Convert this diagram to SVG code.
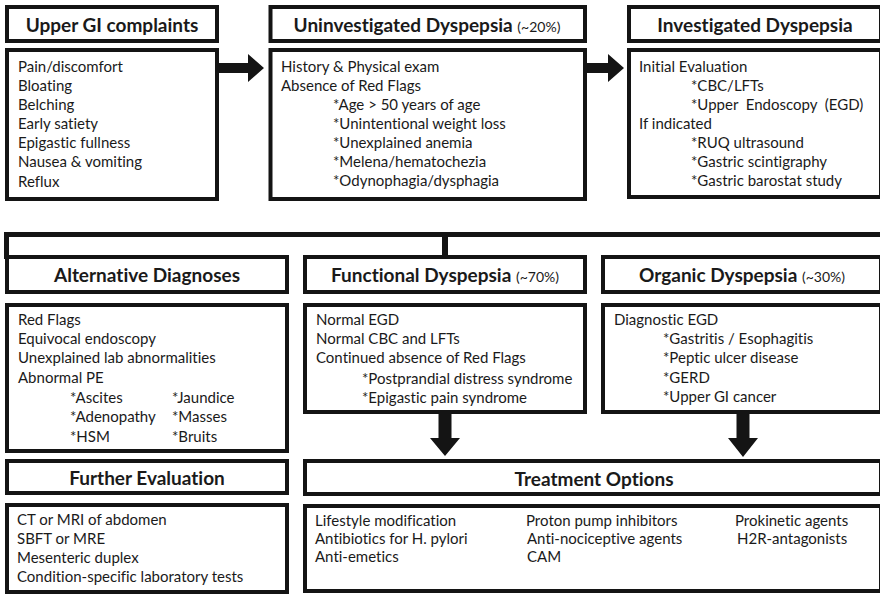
<svg xmlns="http://www.w3.org/2000/svg" width="880" height="594" viewBox="0 0 880 594">
  <style>
    .box { fill: #ffffff; stroke: #141414; stroke-width: 4; }
    .hd { font-family: Lato, "Open Sans", sans-serif; font-weight: bold; font-size: 19px; fill: #1a1a1a; text-anchor: middle; font-variant-ligatures: none; font-feature-settings: "liga" 0, "dlig" 0; }
    .pct { font-weight: normal; font-size: 14px; }
    .tx { font-family: Lato, "Open Sans", sans-serif; font-size: 15px; fill: #1a1a1a; font-variant-ligatures: none; font-feature-settings: "liga" 0, "dlig" 0; }
    .conn { fill: none; stroke: #141414; }
    .arrow { fill: #141414; }
  </style>

  <!-- Connectors -->
  <g id="connectors">
    <polygon class="arrow" points="219,63 248,63 248,54 264,68 248,82 248,73 219,73"/>
    <polygon class="arrow" points="587,63 608,63 608,54 624,68 608,82 608,73 587,73"/>
    <path class="conn" stroke-width="5" d="M6.5,259 V234.5 H884"/>
    <path class="conn" stroke-width="6" d="M445,234.5 V259"/>
    <polygon class="arrow" points="438.5,414 451.5,414 451.5,438 460,438 445,456 430,438 438.5,438"/>
    <polygon class="arrow" points="736.5,414 749.5,414 749.5,438 758,438 743,457 728,438 736.5,438"/>
  </g>

  <!-- Top row -->
  <g id="upper-gi-complaints">
    <rect class="box" x="7" y="7" width="210" height="34"/>
    <text class="hd" x="112" y="32">Upper GI complaints</text>
    <rect class="box" x="7" y="50" width="210" height="149"/>
    <text class="tx" x="18" y="72">Pain/discomfort</text>
    <text class="tx" x="18" y="91">Bloating</text>
    <text class="tx" x="18" y="110">Belching</text>
    <text class="tx" x="18" y="129">Early satiety</text>
    <text class="tx" x="18" y="148">Epigastic fullness</text>
    <text class="tx" x="18" y="167">Nausea &amp; vomiting</text>
    <text class="tx" x="18" y="187">Reflux</text>
  </g>

  <g id="uninvestigated-dyspepsia">
    <rect class="box" x="270.5" y="7" width="314.5" height="34"/>
    <text class="hd" x="427" y="32">Uninvestigated Dyspepsia <tspan class="pct">(~20%)</tspan></text>
    <rect class="box" x="270.5" y="50" width="314.5" height="149"/>
    <text class="tx" x="281" y="72">History &amp; Physical exam</text>
    <text class="tx" x="281" y="91">Absence of Red Flags</text>
    <text class="tx" x="333" y="110">*Age &gt; 50 years of age</text>
    <text class="tx" x="333" y="129">*Unintentional weight loss</text>
    <text class="tx" x="333" y="148">*Unexplained anemia</text>
    <text class="tx" x="333" y="167">*Melena/hematochezia</text>
    <text class="tx" x="333" y="186">*Odynophagia/dysphagia</text>
  </g>

  <g id="investigated-dyspepsia">
    <rect class="box" x="629" y="7" width="252" height="34"/>
    <text class="hd" x="755" y="32">Investigated Dyspepsia</text>
    <rect class="box" x="629" y="50" width="252" height="147"/>
    <text class="tx" x="639" y="72">Initial Evaluation</text>
    <text class="tx" x="691" y="91">*CBC/LFTs</text>
    <text class="tx" x="691" y="110" xml:space="preserve">*Upper  Endoscopy  (EGD)</text>
    <text class="tx" x="639" y="129">If indicated</text>
    <text class="tx" x="691" y="148">*RUQ ultrasound</text>
    <text class="tx" x="691" y="167">*Gastric scintigraphy</text>
    <text class="tx" x="691" y="186">*Gastric barostat study</text>
  </g>

  <!-- Middle row -->
  <g id="alternative-diagnoses">
    <rect class="box" x="7" y="257" width="280" height="35"/>
    <text class="hd" x="147" y="282">Alternative Diagnoses</text>
    <rect class="box" x="7" y="305" width="280" height="146"/>
    <text class="tx" x="18" y="325">Red Flags</text>
    <text class="tx" x="18" y="344">Equivocal endoscopy</text>
    <text class="tx" x="18" y="363">Unexplained lab abnormalities</text>
    <text class="tx" x="18" y="383">Abnormal PE</text>
    <text class="tx" x="70" y="403">*Ascites</text>
    <text class="tx" x="172" y="403">*Jaundice</text>
    <text class="tx" x="70" y="422">*Adenopathy</text>
    <text class="tx" x="172" y="422">*Masses</text>
    <text class="tx" x="70" y="442">*HSM</text>
    <text class="tx" x="172" y="442">*Bruits</text>
  </g>

  <g id="functional-dyspepsia">
    <rect class="box" x="305" y="257" width="280" height="35"/>
    <text class="hd" x="445" y="282">Functional Dyspepsia <tspan class="pct">(~70%)</tspan></text>
    <rect class="box" x="305" y="305" width="280" height="107"/>
    <text class="tx" x="316" y="325">Normal EGD</text>
    <text class="tx" x="316" y="344">Normal CBC and LFTs</text>
    <text class="tx" x="316" y="363">Continued absence of Red Flags</text>
    <text class="tx" x="362" y="384">*Postprandial distress syndrome</text>
    <text class="tx" x="362" y="403">*Epigastic pain syndrome</text>
  </g>

  <g id="organic-dyspepsia">
    <rect class="box" x="603" y="257" width="278" height="35"/>
    <text class="hd" x="742" y="282">Organic Dyspepsia <tspan class="pct">(~30%)</tspan></text>
    <rect class="box" x="603" y="305" width="278" height="107"/>
    <text class="tx" x="614" y="325">Diagnostic EGD</text>
    <text class="tx" x="663" y="344">*Gastritis / Esophagitis</text>
    <text class="tx" x="663" y="363">*Peptic ulcer disease</text>
    <text class="tx" x="663" y="383">*GERD</text>
    <text class="tx" x="663" y="402">*Upper GI cancer</text>
  </g>

  <!-- Bottom row -->
  <g id="further-evaluation">
    <rect class="box" x="7" y="461" width="280" height="32"/>
    <text class="hd" x="147" y="485">Further Evaluation</text>
    <rect class="box" x="7" y="505" width="280" height="87"/>
    <text class="tx" x="17" y="525">CT or MRI of abdomen</text>
    <text class="tx" x="17" y="544">SBFT or MRE</text>
    <text class="tx" x="17" y="563">Mesenteric duplex</text>
    <text class="tx" x="17" y="582">Condition-specific laboratory tests</text>
  </g>

  <g id="treatment-options">
    <rect class="box" x="305" y="461" width="576" height="33"/>
    <text class="hd" x="594" y="486">Treatment Options</text>
    <rect class="box" x="305" y="506" width="576" height="85"/>
    <text class="tx" x="315" y="526">Lifestyle modification</text>
    <text class="tx" x="315" y="544">Antibiotics for H. pylori</text>
    <text class="tx" x="315" y="562">Anti-emetics</text>
    <text class="tx" x="526" y="526">Proton pump inhibitors</text>
    <text class="tx" x="527" y="544">Anti-nociceptive agents</text>
    <text class="tx" x="527" y="562">CAM</text>
    <text class="tx" x="735" y="526">Prokinetic agents</text>
    <text class="tx" x="737" y="544">H2R-antagonists</text>
  </g>
</svg>
